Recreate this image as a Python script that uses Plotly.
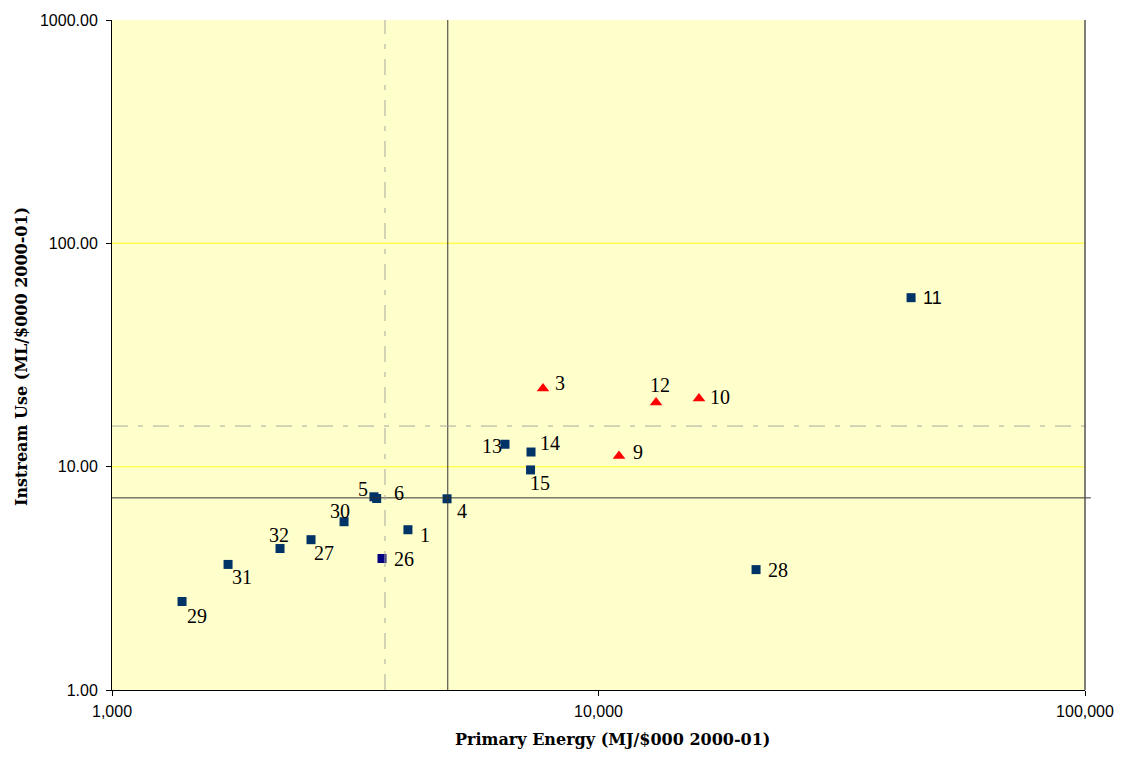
import math
import plotly.graph_objects as go

# Primary energy intensity vs instream water use by sector
sectors_sq = ["29", "31", "32", "27", "30", "5", "6", "4", "1", "26", "13", "14", "15", "28", "11"]
energy_sq = [1393, 1732, 2215, 2565, 2999, 3455, 3500, 4883, 4058, 3589, 6424, 7266, 7250, 21080, 43900]
water_sq = [2.49, 3.65, 4.30, 4.71, 5.67, 7.33, 7.20, 7.18, 5.22, 3.88, 12.6, 11.63, 9.67, 3.46, 57.1]

sectors_tri = ["3", "12", "10", "9"]
energy_tri = [7690, 13130, 16090, 11020]
water_tri = [22.4, 19.4, 20.2, 11.16]

# reference lines: averages (solid) and alternative thresholds (dash-dot)
energy_avg = 4900
water_avg = 7.25
energy_alt = 3640
water_alt = 15.2

x_ticks = [1000, 10000, 100000]
x_ticktext = ["1,000", "10,000", "100,000"]
y_ticks = [1, 10, 100, 1000]
y_ticktext = ["1.00", "10.00", "100.00", "1000.00"]
y_gridlines = [10, 100]

x_title = "Primary Energy (MJ/$000 2000-01)"
y_title = "Instream Use (ML/$000 2000-01)"

# label offsets in pixels (dx, dy) relative to each marker
label_offsets = {
    "29": (15, 14), "31": (14, 13), "32": (-1, -14), "27": (13, 13), "30": (-4, -11),
    "5": (-11, -8), "6": (22, -6), "4": (15, 12), "1": (17, 5), "26": (22, 1),
    "13": (-13, 2), "14": (19, -9), "15": (9, 13), "28": (22, 0), "11": (21, 0),
    "3": (17, -5), "12": (4, -17), "10": (21, -1), "9": (19, -4),
}

sq_colors = ["#003366"] * len(sectors_sq)
sq_colors[sectors_sq.index("26")] = "#000080"

fig = go.Figure()
fig.add_trace(go.Scatter(
    x=energy_sq, y=water_sq, mode="markers",
    marker=dict(symbol="square", size=9, color=sq_colors, line=dict(width=0)),
    showlegend=False, hoverinfo="skip",
))
fig.add_trace(go.Scatter(
    x=energy_tri, y=water_tri, mode="markers",
    marker=dict(symbol="triangle-up", size=11, color="#FF0000", line=dict(width=0)),
    showlegend=False, hoverinfo="skip",
))

serif = "Liberation Serif, Times New Roman, serif"
title_serif = "DejaVu Serif, serif"
sans = "Liberation Sans, Arial, sans-serif"

annotations = []
for names, xs, ys in ((sectors_sq, energy_sq, water_sq), (sectors_tri, energy_tri, water_tri)):
    for n, xv, yv in zip(names, xs, ys):
        dx, dy = label_offsets[n]
        annotations.append(dict(
            # annotation positions on log axes are given in log10 units
            x=math.log10(xv), y=math.log10(yv), xref="x", yref="y", text=n, showarrow=False,
            xshift=dx, yshift=-dy, xanchor="center", yanchor="middle",
            font=dict(family=sans if n == "11" else serif, size=18 if n == "11" else 20,
                      color="#000000"),
        ))

# axis titles
annotations.append(dict(
    x=0.514, y=-0.074, xref="paper", yref="paper", text=f"<b>{x_title}</b>",
    showarrow=False, xanchor="center", yanchor="middle",
    font=dict(family=title_serif, size=16, color="#000000"),
))
annotations.append(dict(
    x=-0.0935, y=0.497, xref="paper", yref="paper", text=f"<b>{y_title}</b>",
    showarrow=False, xanchor="center", yanchor="middle", textangle=-90,
    font=dict(family=title_serif, size=16, color="#000000"),
))

dashdot = "16px,10px,5px,10px"
shapes = [
    dict(type="line", xref="paper", yref="y", x0=0, x1=1, y0=g, y1=g, layer="below",
         line=dict(color="#FFFF55", width=1.5))
    for g in y_gridlines
]
shapes += [
    dict(type="line", xref="x", yref="paper", x0=energy_avg, x1=energy_avg, y0=0, y1=1,
         line=dict(color="#333333", width=1)),
    dict(type="line", xref="paper", yref="y", x0=0, x1=1.006, y0=water_avg, y1=water_avg,
         line=dict(color="#333333", width=1)),
    dict(type="line", xref="x", yref="paper", x0=energy_alt, x1=energy_alt, y0=0, y1=1,
         line=dict(color="#A8A8A0", width=1, dash=dashdot)),
    dict(type="line", xref="paper", yref="y", x0=0, x1=1.006, y0=water_alt, y1=water_alt,
         line=dict(color="#A8A8A0", width=1, dash=dashdot)),
    # plot frame on the right
    dict(type="line", xref="paper", yref="paper", x0=1, x1=1, y0=0, y1=1,
         line=dict(color="#555555", width=1.5)),
]

fig.update_layout(
    width=1132, height=764,
    margin=dict(l=112, r=47, t=13, b=74),
    paper_bgcolor="#FFFFFF", plot_bgcolor="#FFFFCC",
    annotations=annotations, shapes=shapes,
    xaxis=dict(
        type="log", range=[3, 5], tickvals=x_ticks, ticktext=x_ticktext,
        showgrid=False, zeroline=False, showline=True, linecolor="#000000", linewidth=1,
        ticks="outside", ticklen=5, tickcolor="#000000", ticklabelstandoff=2,
        tickfont=dict(family=sans, size=16, color="#000000"),
    ),
    yaxis=dict(
        type="log", range=[0, 3], tickvals=y_ticks, ticktext=y_ticktext,
        showgrid=False, zeroline=False,
        showline=True, linecolor="#000000", linewidth=1,
        ticks="outside", ticklen=5, tickcolor="#000000", ticklabelstandoff=5,
        tickfont=dict(family=sans, size=16, color="#000000"),
    ),
)

fig.write_html("out.html")
